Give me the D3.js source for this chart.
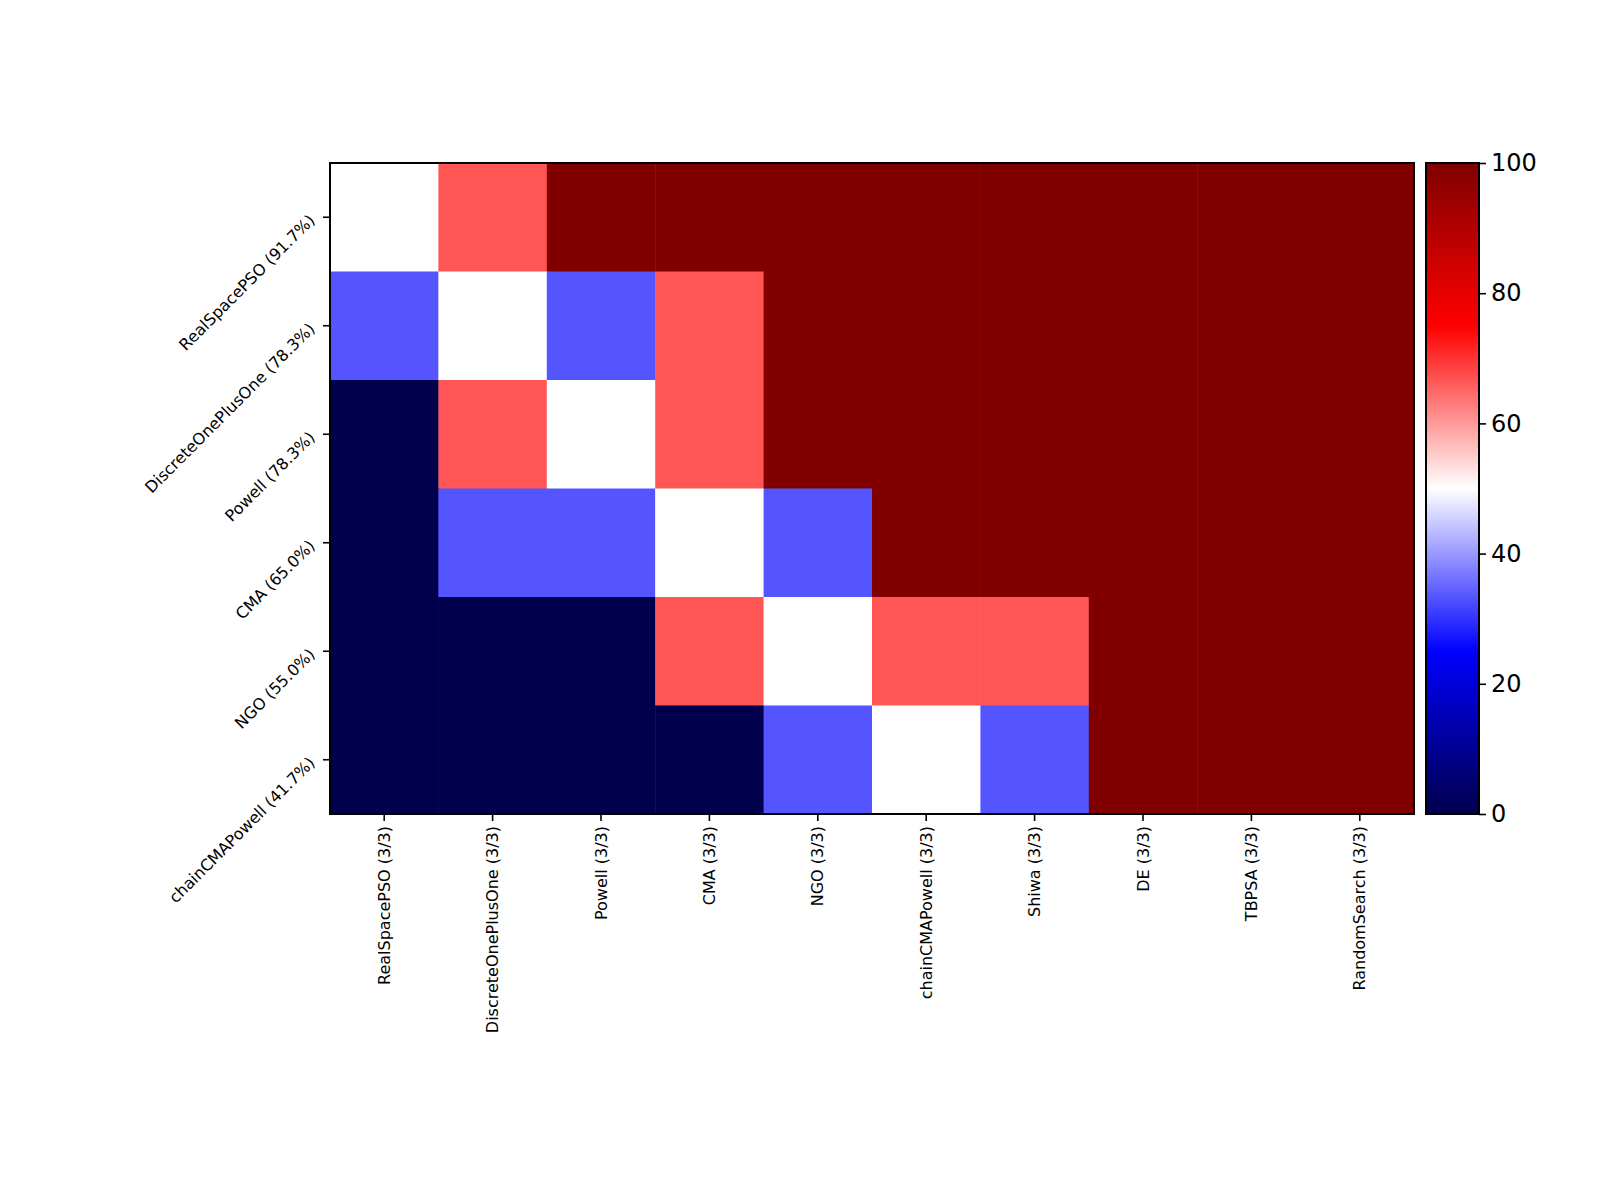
<!DOCTYPE html>
<html><head><meta charset="utf-8">
<script src="https://cdn.jsdelivr.net/npm/d3@7"></script>
<style>body{margin:0;background:#fff}</style>
</head><body>
<script>
var rowLabels = ["RealSpacePSO (91.7%)","DiscreteOnePlusOne (78.3%)","Powell (78.3%)","CMA (65.0%)","NGO (55.0%)","chainCMAPowell (41.7%)"];
var colLabels = ["RealSpacePSO (3/3)","DiscreteOnePlusOne (3/3)","Powell (3/3)","CMA (3/3)","NGO (3/3)","chainCMAPowell (3/3)","Shiwa (3/3)","DE (3/3)","TBPSA (3/3)","RandomSearch (3/3)"];
var values = [
  [50,66.7,100,100,100,100,100,100,100,100],
  [33.3,50,33.3,66.7,100,100,100,100,100,100],
  [0,66.7,50,66.7,100,100,100,100,100,100],
  [0,33.3,33.3,50,33.3,100,100,100,100,100],
  [0,0,0,66.7,50,66.7,66.7,100,100,100],
  [0,0,0,0,33.3,50,33.3,100,100,100]
];
var cbTicks = [0,20,40,60,80,100];

var svgWidth = 1600, svgHeight = 1200;
var plotL = 330, plotT = 163, plotR = 1414, plotB = 814;

var svg = d3.select("body").append("svg").attr("width", svgWidth).attr("height", svgHeight);

// seismic colormap
var seismic = d3.scaleLinear()
  .domain([0,25,50,75,100])
  .range(["rgb(0,0,76)","rgb(0,0,255)","rgb(255,255,255)","rgb(255,0,0)","rgb(128,0,0)"]);

var x = d3.scaleBand().domain(d3.range(colLabels.length)).range([plotL, plotR]);
var y = d3.scaleBand().domain(d3.range(rowLabels.length)).range([plotT, plotB]);

var cells = [];
values.forEach(function(r, i){ r.forEach(function(v, j){ cells.push({i:i, j:j, v:v}); }); });

svg.append("g").selectAll("rect").data(cells).join("rect")
  .attr("x", d => x(d.j)).attr("y", d => y(d.i))
  .attr("width", x.bandwidth() + 0.5).attr("height", y.bandwidth() + 0.5)
  .attr("fill", d => seismic(d.v));

svg.append("rect").attr("x", plotL).attr("y", plotT).attr("width", plotR-plotL).attr("height", plotB-plotT)
  .attr("fill","none").attr("stroke","#000").attr("stroke-width",2);

var xAxis = svg.append("g").attr("transform", `translate(0,${plotB})`)
  .call(d3.axisBottom(x).tickFormat(i => colLabels[i]).tickSize(7).tickSizeOuter(0));
xAxis.select(".domain").remove();
xAxis.selectAll("line").attr("stroke-width",1.6);
xAxis.selectAll("text").attr("font-family","DejaVu Sans").attr("font-size",16).attr("fill","#000")
  .attr("text-anchor","end").attr("transform","rotate(-90)").attr("x",-12).attr("y",0).attr("dy","0.35em");

var yAxis = svg.append("g").attr("transform", `translate(${plotL},0)`)
  .call(d3.axisLeft(y).tickFormat(i => rowLabels[i]).tickSize(7).tickSizeOuter(0));
yAxis.select(".domain").remove();
yAxis.selectAll("line").attr("stroke-width",1.6);
yAxis.selectAll("text").attr("font-family","DejaVu Sans").attr("font-size",16).attr("fill","#000")
  .attr("text-anchor","end").attr("x",0).attr("dy",0)
  .attr("transform","translate(-14,4) rotate(-45)");

// colorbar
var cbX = 1426, cbW = 53;
var cy = d3.scaleLinear().domain([0,100]).range([plotB, plotT]);
var grad = svg.append("defs").append("linearGradient").attr("id","cb")
  .attr("x1","0").attr("y1","1").attr("x2","0").attr("y2","0");
d3.range(0,101,5).forEach(function(v){
  grad.append("stop").attr("offset", v + "%").attr("stop-color", seismic(v));
});
svg.append("rect").attr("x", cbX).attr("y", plotT).attr("width", cbW).attr("height", plotB-plotT)
  .attr("fill","url(#cb)").attr("stroke","#000").attr("stroke-width",2);
var cAxis = svg.append("g").attr("transform", `translate(${cbX+cbW},0)`)
  .call(d3.axisRight(cy).tickValues(cbTicks).tickSize(7).tickSizeOuter(0));
cAxis.select(".domain").remove();
cAxis.selectAll("line").attr("stroke-width",1.6);
cAxis.selectAll("text").attr("font-family","DejaVu Sans").attr("font-size",24).attr("fill","#000").attr("x",12);
</script>
</body></html>
